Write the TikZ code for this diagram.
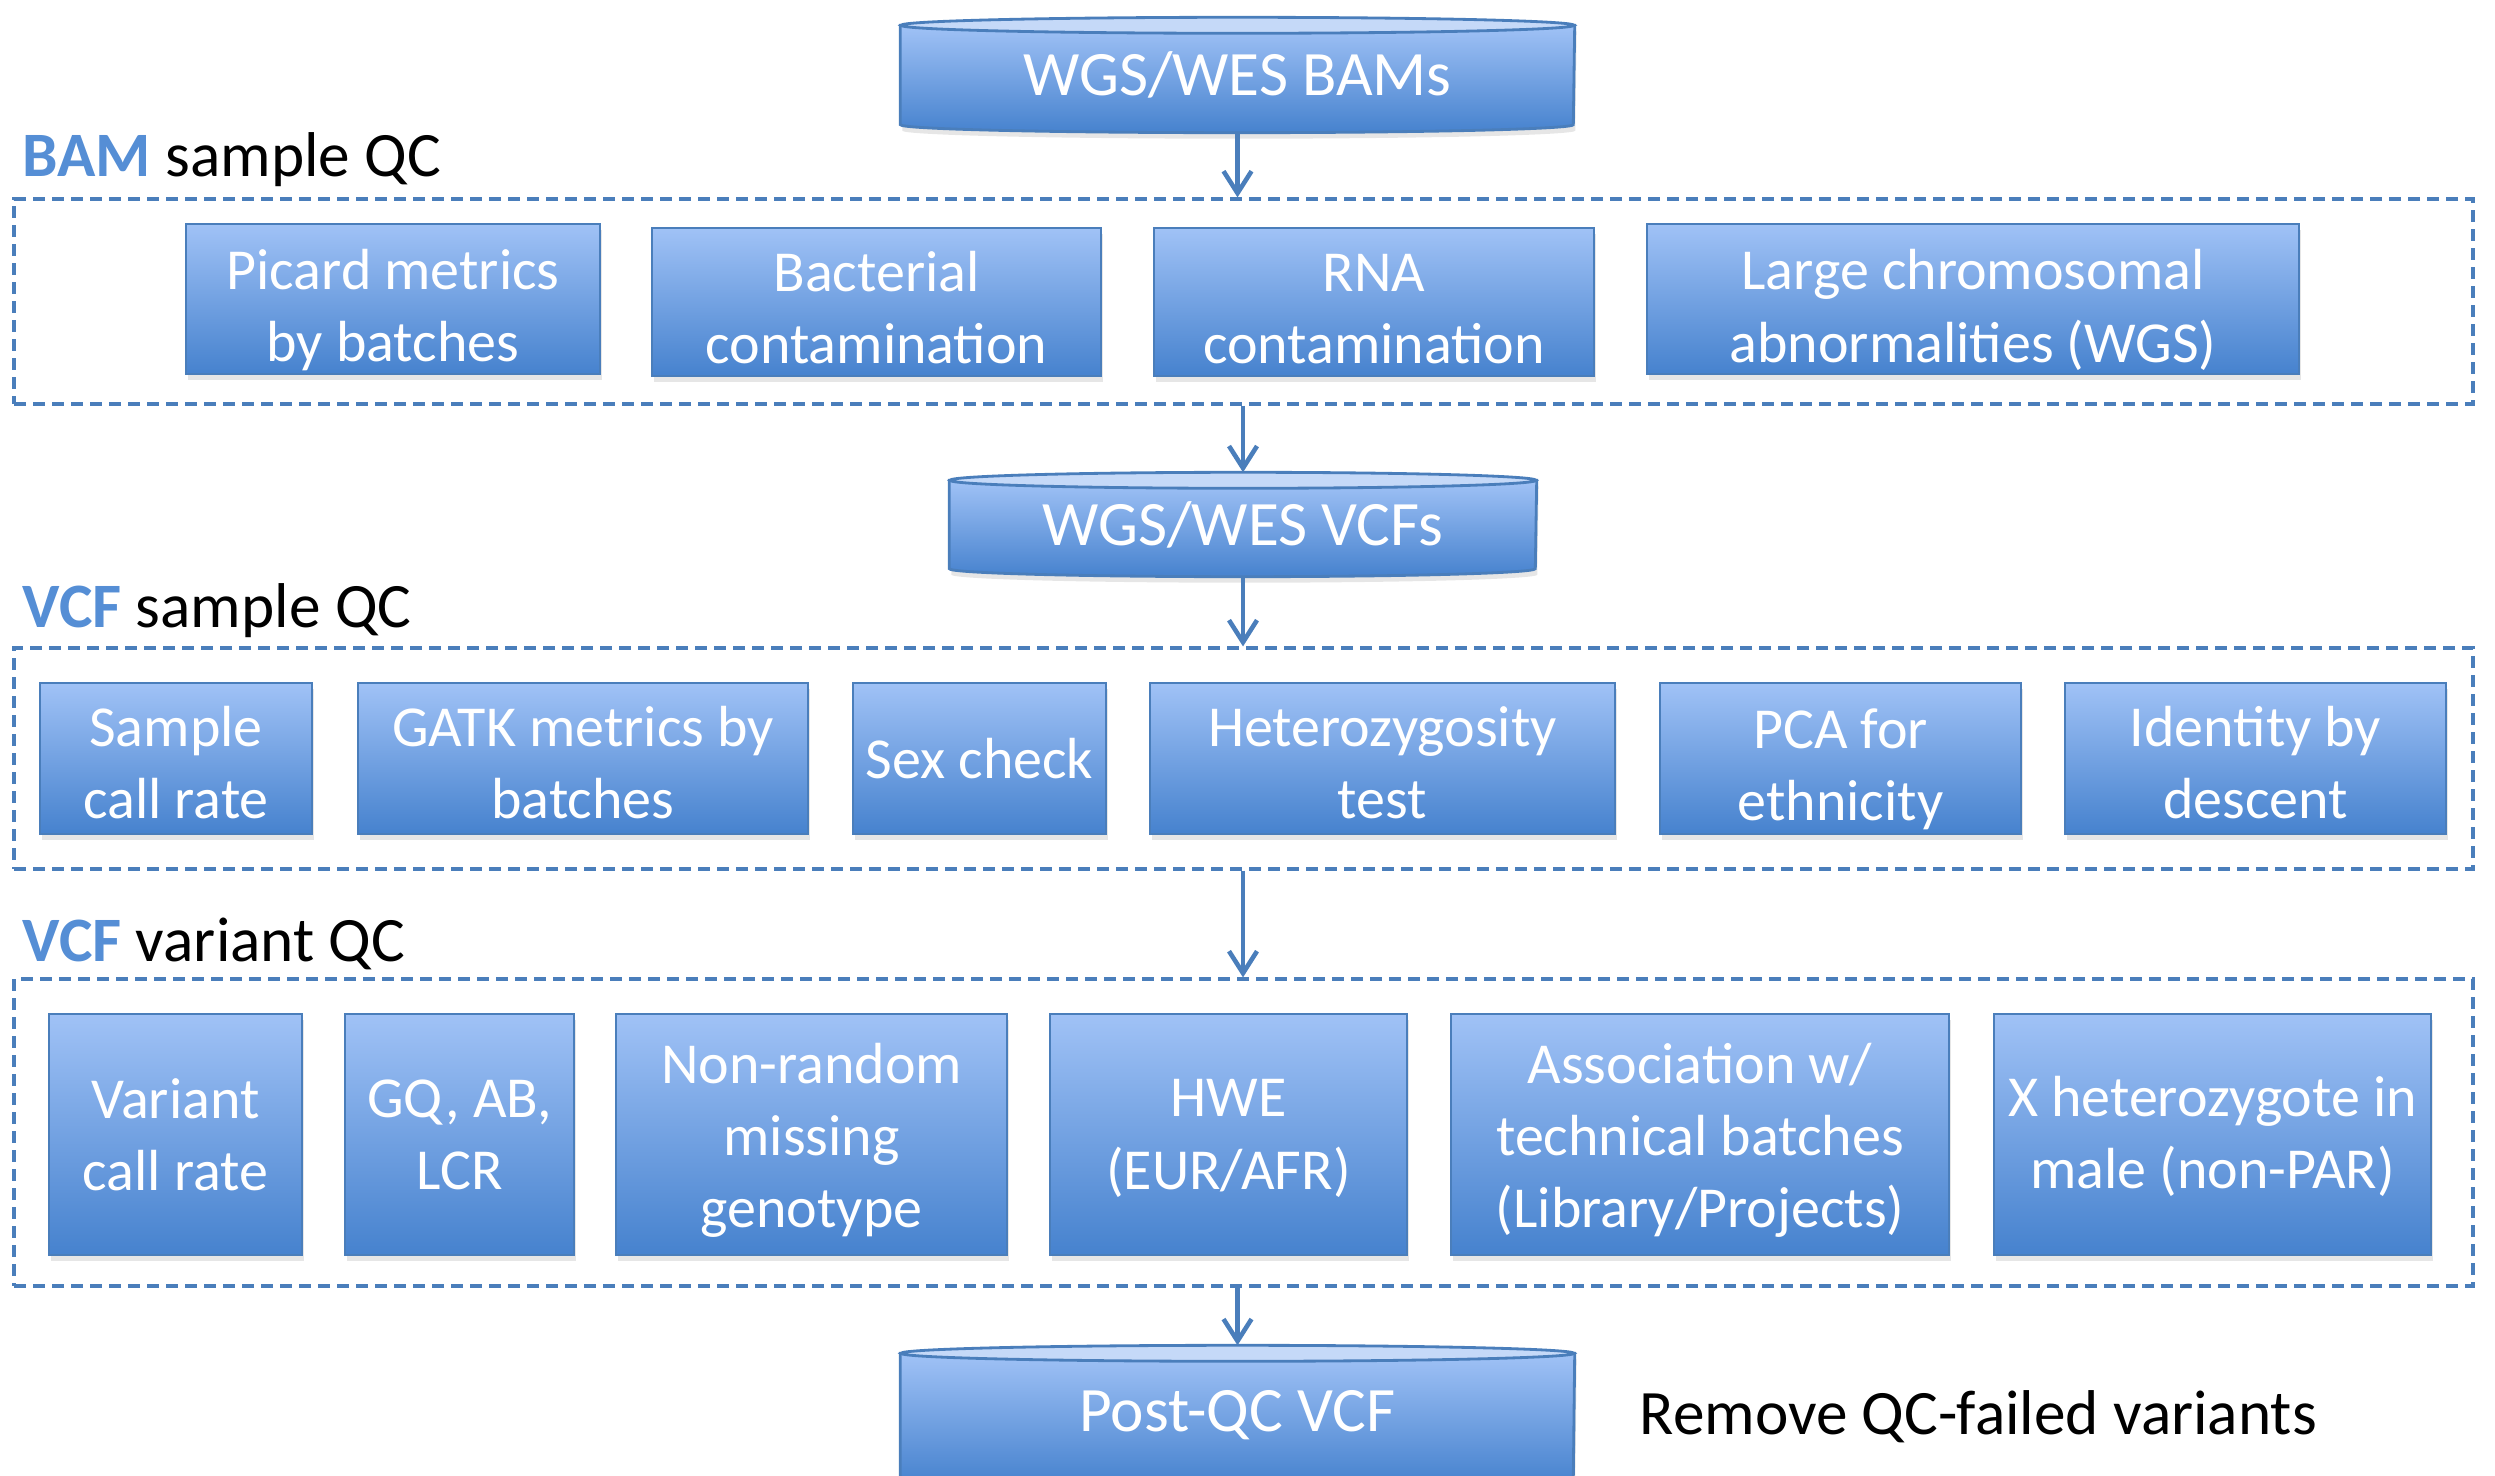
\documentclass[tikz,border=0pt]{standalone}
\usepackage{fontspec}
\setmainfont{Carlito}
\usetikzlibrary{arrows.meta,shadows}
\definecolor{qcblue}{RGB}{74,126,187}
\definecolor{qctop}{RGB}{160,194,246}
\definecolor{qcbot}{RGB}{70,130,206}
\definecolor{qclid}{RGB}{197,217,248}
\definecolor{qclabel}{RGB}{85,142,213}
\pgfdeclarelayer{background}
\pgfsetlayers{background,main}
\newcommand{\boxfont}{\fontsize{16.5}{20.5}\selectfont}
\newcommand{\dbfont}{\fontsize{18}{22}\selectfont}
\newcommand{\lift}[1]{\rule{0pt}{#1}}
\newcommand{\dbry}{0.08cm}
\newcommand{\dbshape}[2]{%
	\shade[top color=qctop,bottom color=qcbot,draw=qcblue,line width=0.8pt,
		drop shadow={opacity=0.2,shadow xshift=0.02cm,shadow yshift=-0.06cm}]
		([yshift=-\dbry]#1.north west) -- ([yshift=\dbry]#1.south west)
		arc[start angle=180,end angle=360,x radius=#2,y radius=\dbry]
		-- ([yshift=-\dbry]#1.north east) -- cycle;
	\filldraw[fill=qclid,draw=qcblue,line width=0.8pt] ([yshift=-\dbry]#1.north) ellipse[x radius=#2,y radius=\dbry];
}
\begin{document}
\begin{tikzpicture}[
	stepbox/.style={rectangle,draw=qcblue,line width=0.6pt,top color=qctop,bottom color=qcbot,
		text=white,font=\boxfont,align=center,inner sep=0pt,
		drop shadow={opacity=0.2,shadow xshift=0.02cm,shadow yshift=-0.06cm}},
	db/.style={inner sep=0pt,text=white,font=\dbfont},
	frame/.style={draw=qcblue,dash pattern=on 0.12cm off 0.07cm,line width=0.9pt,inner sep=0pt},
	grouplabel/.style={anchor=base west,inner sep=0pt,font=\dbfont},
	flow/.style={draw=qcblue,line width=1.3pt,-{Straight Barb[length=2.2mm,width=2.8mm]}}]
	\useasboundingbox (0,0) rectangle (24.95,-14.76);
	\clip (0,0) rectangle (24.95,-14.76);

	\node[db,minimum width=6.73cm,minimum height=1.14cm] (bams) at (12.375,-0.75) {WGS/WES BAMs};
	\node[db,minimum width=5.86cm,minimum height=1.03cm] (vcfs) at (12.43,-5.245) {WGS/WES VCFs};
	\node[db,minimum width=6.73cm,minimum height=1.38cm] (postqc) at (12.375,-14.15) {Post-QC VCF};
	\begin{pgfonlayer}{background}
	\dbshape{bams}{3.365cm}
	\dbshape{vcfs}{2.93cm}
	\dbshape{postqc}{3.365cm}
	\end{pgfonlayer}

	\node[grouplabel] (bamlabel) at (0.22,-1.77) {\textcolor{qclabel}{\textbf{BAM}} sample QC};
	\node[grouplabel] (samplelabel) at (0.22,-6.27) {\textcolor{qclabel}{\textbf{VCF}} sample QC};
	\node[grouplabel] (variantlabel) at (0.22,-9.61) {\textcolor{qclabel}{\textbf{VCF}} variant QC};
	\node[grouplabel] (remove) at (16.39,-14.34) {Remove QC-failed variants};

	\node[frame,minimum width=24.59cm,minimum height=2.05cm] (bamqc) at (12.435,-3.015) {};
	\node[frame,minimum width=24.59cm,minimum height=2.21cm] (vcfqc) at (12.435,-7.585) {};
	\node[frame,minimum width=24.59cm,minimum height=3.07cm] (varqc) at (12.435,-11.325) {};

	\node[stepbox,minimum width=4.14cm,minimum height=1.50cm] (picard) at (3.93,-2.99) {\lift{0.62cm}Picard metrics\\by batches};
	\node[stepbox,minimum width=4.49cm,minimum height=1.48cm] (bact) at (8.765,-3.02) {\lift{0.52cm}Bacterial\\contamination};
	\node[stepbox,minimum width=4.40cm,minimum height=1.48cm] (rna) at (13.74,-3.02) {\lift{0.52cm}RNA\\contamination};
	\node[stepbox,minimum width=6.52cm,minimum height=1.50cm] (chrom) at (19.73,-2.99) {\lift{0.62cm}Large chromosomal\\abnormalities (WGS)};

	\node[stepbox,minimum width=2.72cm,minimum height=1.51cm] (callrate) at (1.76,-7.585) {\lift{0.49cm}Sample\\call rate};
	\node[stepbox,minimum width=4.50cm,minimum height=1.51cm] (gatk) at (5.83,-7.585) {\lift{0.49cm}GATK metrics by\\batches};
	\node[stepbox,minimum width=2.53cm,minimum height=1.51cm] (sex) at (9.795,-7.585) {Sex check};
	\node[stepbox,minimum width=4.65cm,minimum height=1.51cm] (het) at (13.825,-7.585) {\lift{0.49cm}Heterozygosity\\test};
	\node[stepbox,minimum width=3.61cm,minimum height=1.51cm] (pca) at (18.405,-7.585) {\lift{0.62cm}PCA for\\ethnicity};
	\node[stepbox,minimum width=3.81cm,minimum height=1.51cm] (ibd) at (22.555,-7.585) {\lift{0.49cm}Identity by\\descent};

	\node[stepbox,minimum width=2.53cm,minimum height=2.41cm] (varrate) at (1.755,-11.345) {Variant\\call rate};
	\node[stepbox,minimum width=2.29cm,minimum height=2.41cm] (gq) at (4.595,-11.345) {GQ, AB,\\LCR};
	\node[stepbox,minimum width=3.91cm,minimum height=2.41cm] (missing) at (8.115,-11.345) {\lift{0.52cm}Non-random\\missing\\genotype};
	\node[stepbox,minimum width=3.57cm,minimum height=2.41cm] (hwe) at (12.285,-11.345) {\lift{0.45cm}HWE\\(EUR/AFR)};
	\node[stepbox,minimum width=4.98cm,minimum height=2.41cm] (assoc) at (17.00,-11.345) {\lift{0.52cm}Association w/\\technical batches\\(Library/Projects)};
	\node[stepbox,minimum width=4.37cm,minimum height=2.41cm] (xhet) at (22.125,-11.345) {\lift{0.44cm}X heterozygote in\\male (non-PAR)};

	\draw[flow] (bams.south) -- (bams.south |- bamqc.north);
	\draw[flow] (bamqc.south -| vcfs.north) -- (vcfs.north);
	\draw[flow] (vcfs.south) -- (vcfs.south |- vcfqc.north);
	\draw[flow] (vcfqc.south -| vcfs.south) -- (varqc.north -| vcfs.south);
	\draw[flow] (varqc.south -| postqc.north) -- (postqc.north);
\end{tikzpicture}
\end{document}
